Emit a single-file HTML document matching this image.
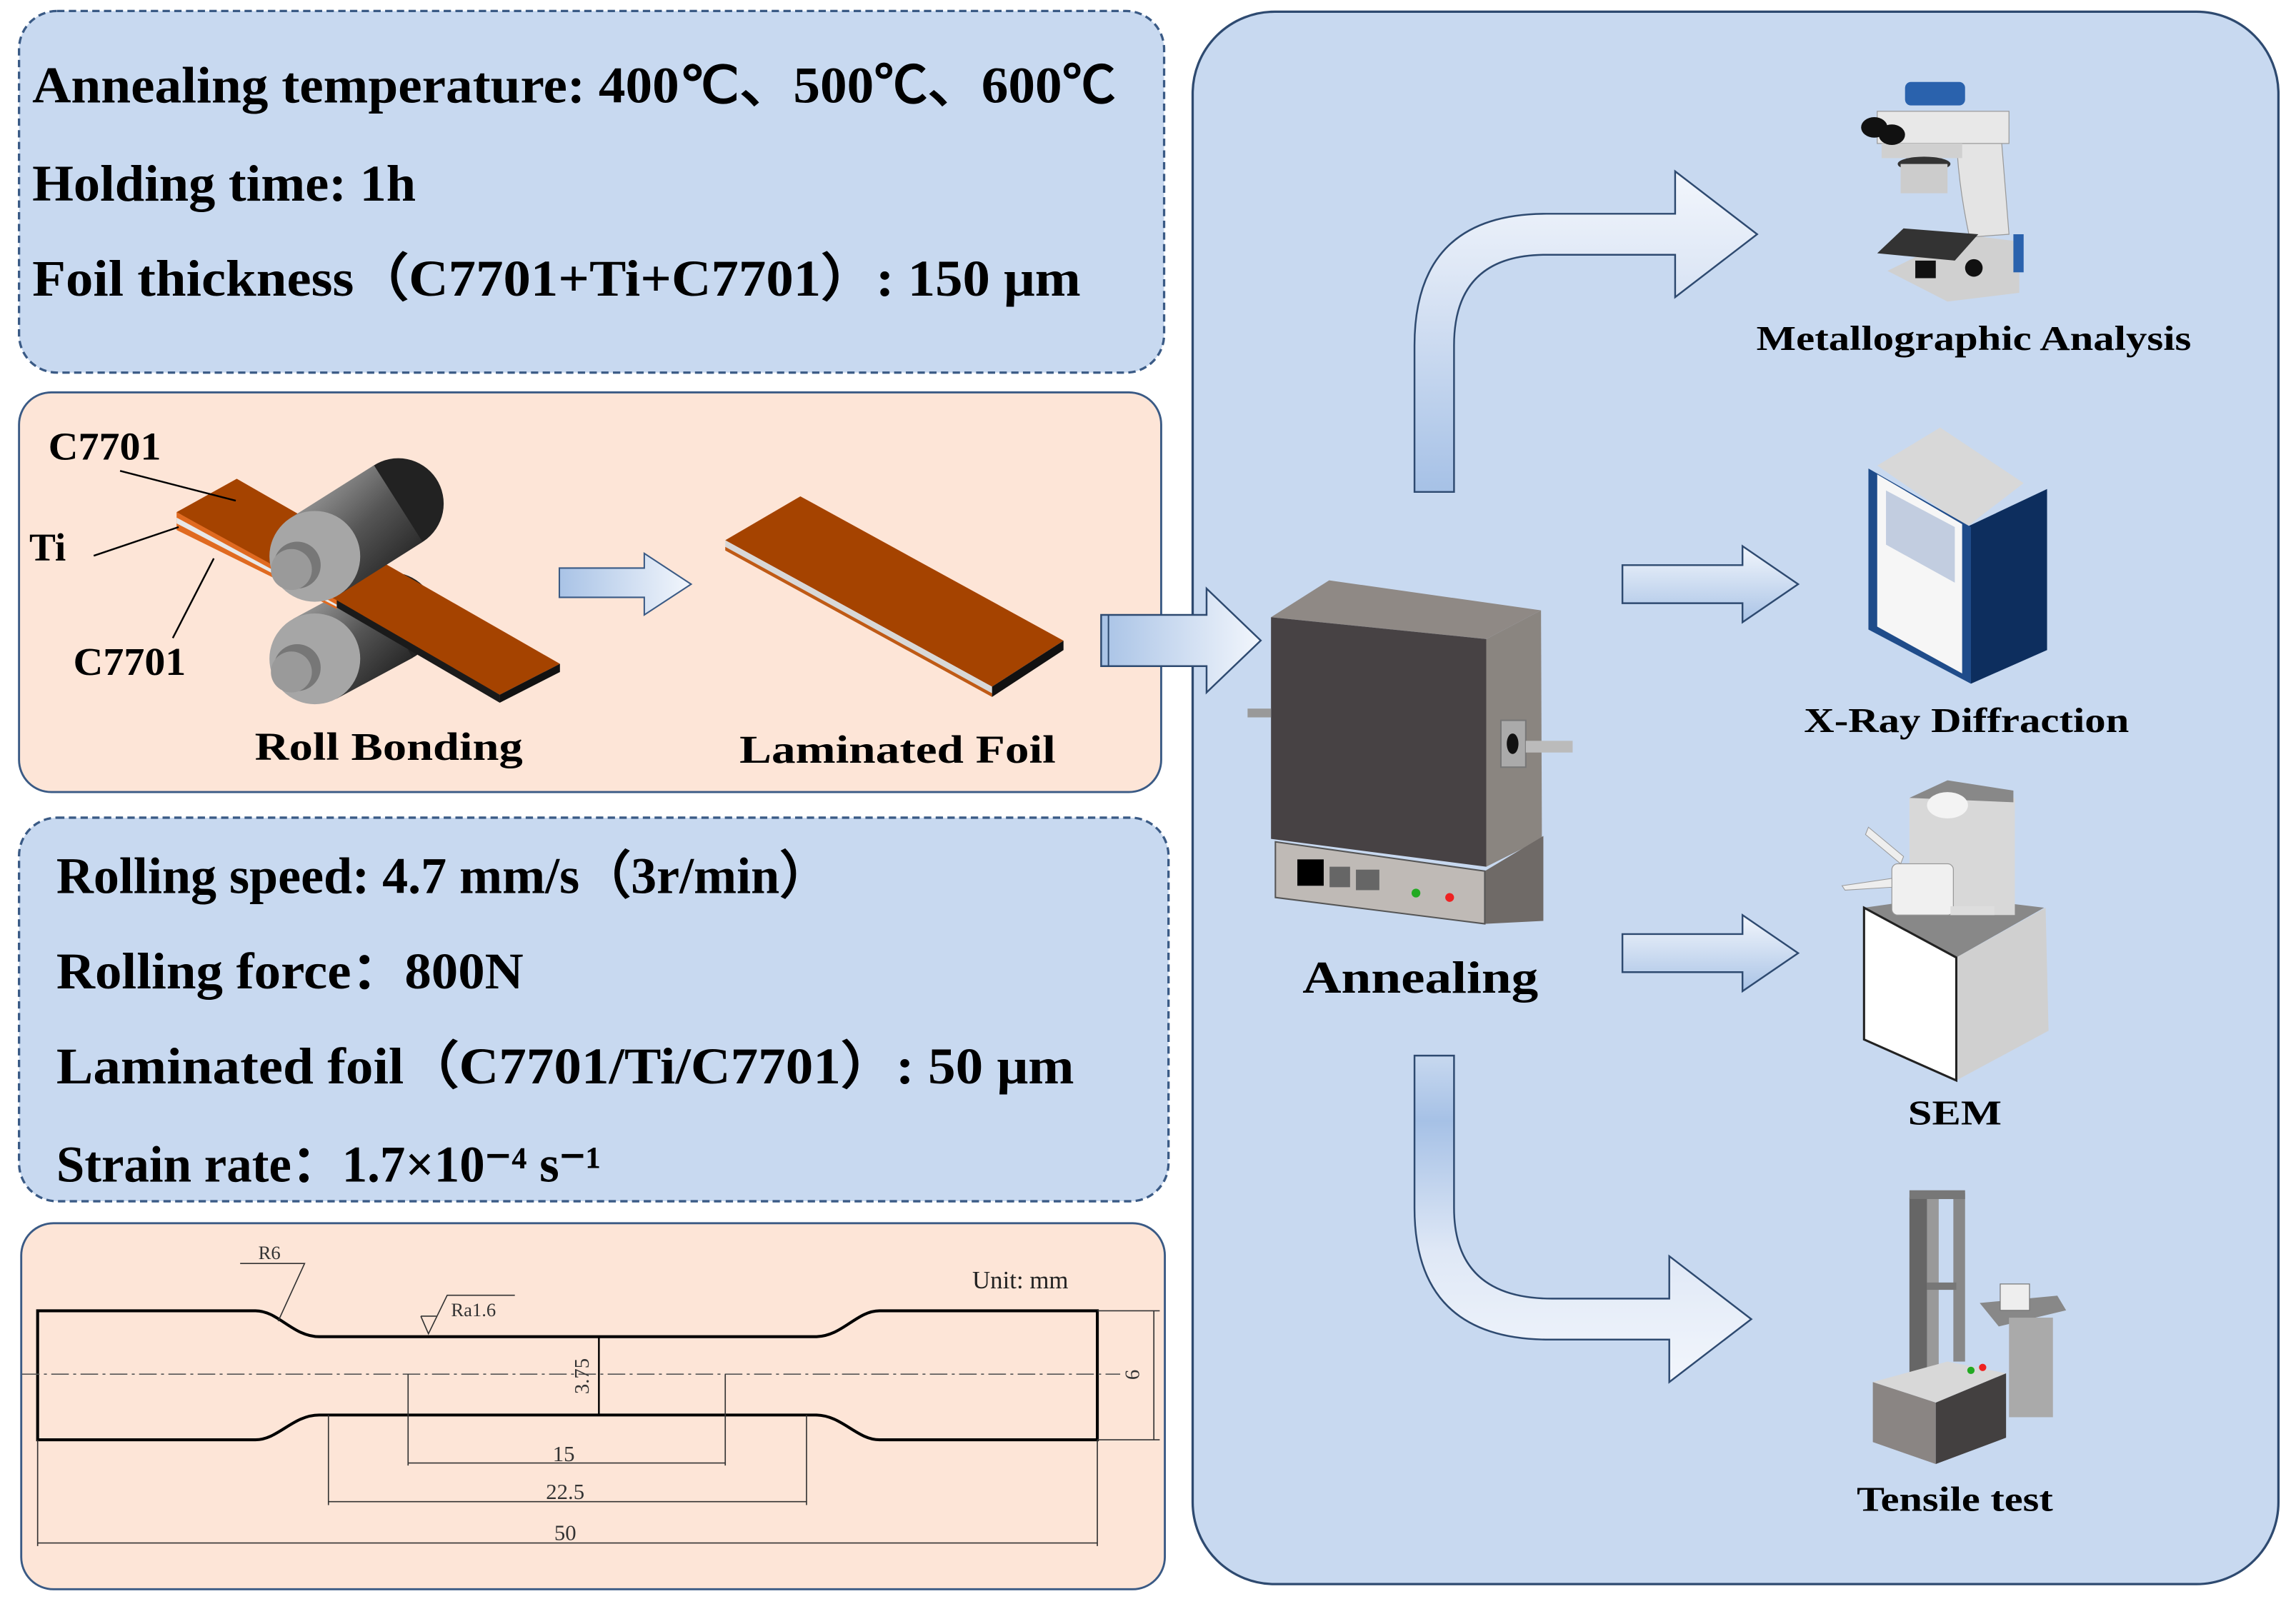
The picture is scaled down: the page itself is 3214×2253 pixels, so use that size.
<!DOCTYPE html>
<html><head><meta charset="utf-8"><style>html,body{margin:0;padding:0;background:#fff}svg{display:block}</style></head>
<body>
<svg width="3214" height="2253" viewBox="0 0 1568 1099" preserveAspectRatio="none" xmlns="http://www.w3.org/2000/svg" font-family="'Liberation Serif', serif">
<defs>
<linearGradient id="gh" x1="0" y1="0" x2="1" y2="0"><stop offset="0" stop-color="#a9c3e6"/><stop offset="1" stop-color="#f2f6fc"/></linearGradient>
<linearGradient id="gv" x1="0" y1="0" x2="0" y2="1"><stop offset="0" stop-color="#f2f6fc"/><stop offset="1" stop-color="#a9c3e6"/></linearGradient>
<linearGradient id="gup" x1="0" y1="1" x2="0" y2="0"><stop offset="0" stop-color="#a6c1e6"/><stop offset="0.7" stop-color="#dfe8f6"/><stop offset="1" stop-color="#f2f6fc"/></linearGradient>
<linearGradient id="gdn" x1="0" y1="0" x2="0" y2="1"><stop offset="0" stop-color="#c7d8ef"/><stop offset="0.2" stop-color="#a6c1e6"/><stop offset="0.6" stop-color="#dfe8f6"/><stop offset="1" stop-color="#f2f6fc"/></linearGradient>
<linearGradient id="roll" x1="0" y1="0" x2="1" y2="1"><stop offset="0" stop-color="#b8b8b8"/><stop offset="0.5" stop-color="#555"/><stop offset="1" stop-color="#111"/></linearGradient>
</defs>

<rect x="13" y="7.5" width="782" height="247" rx="26" fill="#c8d9f0" stroke="#3a5a85" stroke-width="1.6" stroke-dasharray="5,3"/>
<g font-weight="bold" font-size="35" fill="#000">
<text x="22" y="70" textLength="740" lengthAdjust="spacingAndGlyphs">Annealing temperature: 400℃、500℃、600℃</text>
<text x="22" y="137" textLength="262" lengthAdjust="spacingAndGlyphs">Holding time: 1h</text>
<text x="22" y="202" textLength="716" lengthAdjust="spacingAndGlyphs">Foil thickness（C7701+Ti+C7701）: 150 μm</text>
</g>

<rect x="13" y="268" width="780" height="273" rx="22" fill="#fde5d7" stroke="#3a5a85" stroke-width="1.4"/>
<polygon points="229.7,477.3 200.3,422.7 252.3,394.7 281.7,449.3" fill="url(#roll)"/>
<circle cx="267" cy="422" r="31" fill="#222"/>
<polygon points="229.7,477.3 200.3,422.7 252.3,394.7 281.7,449.3" fill="url(#roll)"/>
<circle cx="215" cy="450" r="31" fill="#a6a6a6"/>
<circle cx="203" cy="456" r="16" fill="#777"/>
<circle cx="199" cy="459" r="14" fill="#9a9a9a"/>
<polygon points="120.6,349.8 161.7,327 382.4,453.4 341.3,474.5" fill="#a54300"/>
<polygon points="120.6,349.8 230,410 230,416 120.6,362" fill="#e06a20"/>
<polygon points="120.6,353.5 230,413 230,414.5 120.6,357.5" fill="#e8e8e8"/>
<polygon points="230,410 341.3,474.5 341.3,480 230,415" fill="#1a1a1a"/>
<polygon points="341.3,474.5 382.4,453.4 382.4,459 341.3,480" fill="#111"/>
<circle cx="272" cy="344" r="31" fill="#222"/>
<polygon points="231.6,406.2 198.4,353.8 255.4,317.8 288.6,370.2" fill="url(#roll)"/>
<circle cx="215" cy="380" r="31" fill="#a6a6a6"/>
<circle cx="203" cy="386" r="16" fill="#777"/>
<circle cx="199" cy="389" r="14" fill="#9a9a9a"/>
<g stroke="#000" stroke-width="1.2"><line x1="82" y1="321.6" x2="161" y2="342"/><line x1="64" y1="379.6" x2="122" y2="360"/><line x1="118" y1="435.8" x2="146" y2="381.4"/></g>
<g font-weight="bold" font-size="27" fill="#000">
<text x="33" y="314" textLength="77" lengthAdjust="spacingAndGlyphs">C7701</text>
<text x="20" y="383">Ti</text>
<text x="50" y="461" textLength="77" lengthAdjust="spacingAndGlyphs">C7701</text>
<text x="174" y="519" textLength="183" lengthAdjust="spacingAndGlyphs">Roll Bonding</text>
<text x="505" y="521" textLength="216" lengthAdjust="spacingAndGlyphs">Laminated Foil</text>
</g>
<polygon points="382,388 440,388 440,378 472,399 440,420 440,408 382,408" fill="url(#gh)" stroke="#3a5a85" stroke-width="1"/>
<polygon points="495.3,369 546.6,339 726.3,437.6 677.5,469" fill="#a54300"/>
<polygon points="495.3,369 677.5,469 677.5,476 495.3,376" fill="#d8d8d8"/>
<polygon points="495.3,373.5 677.5,473.5 677.5,476 495.3,376" fill="#c05a15"/>
<polygon points="677.5,469 726.3,437.6 726.3,444 677.5,476" fill="#111"/>

<rect x="13" y="558.5" width="785" height="262" rx="26" fill="#c8d9f0" stroke="#3a5a85" stroke-width="1.6" stroke-dasharray="5,3"/>
<g font-weight="bold" font-size="35" fill="#000">
<text x="38.5" y="610" textLength="529" lengthAdjust="spacingAndGlyphs">Rolling speed: 4.7 mm/s（3r/min）</text>
<text x="38.5" y="675" textLength="319" lengthAdjust="spacingAndGlyphs">Rolling force：800N</text>
<text x="38.5" y="740" textLength="695" lengthAdjust="spacingAndGlyphs">Laminated foil（C7701/Ti/C7701）: 50 μm</text>
<text x="38.5" y="807" textLength="372" lengthAdjust="spacingAndGlyphs">Strain rate：1.7×10⁻⁴ s⁻¹</text>
</g>

<rect x="14.5" y="835.5" width="781" height="250" rx="22" fill="#fde5d7" stroke="#3a5a85" stroke-width="1.4"/>
<path d="M25.7,895.3 L174.5,895.3 C190,895.3 200,913 218,913 L557,913 C575,913 585,895.3 600.6,895.3 L749.4,895.3 L749.4,983.4 L600.6,983.4 C585,983.4 575,966.5 557,966.5 L218,966.5 C200,966.5 190,983.4 174.5,983.4 L25.7,983.4 Z" fill="none" stroke="#000" stroke-width="2"/>
<line x1="15" y1="938.6" x2="765" y2="938.6" stroke="#555" stroke-width="0.8" stroke-dasharray="12,3,2,3"/>
<g stroke="#333" stroke-width="0.8" fill="none">
<line x1="278.7" y1="938.6" x2="278.7" y2="1001"/><line x1="495.3" y1="938.6" x2="495.3" y2="1001"/><line x1="278.7" y1="999.3" x2="495.3" y2="999.3"/>
<line x1="224.3" y1="966.5" x2="224.3" y2="1028"/><line x1="550.8" y1="966.5" x2="550.8" y2="1028"/><line x1="224.3" y1="1025.7" x2="550.8" y2="1025.7"/>
<line x1="25.7" y1="983.4" x2="25.7" y2="1056"/><line x1="749.4" y1="983.4" x2="749.4" y2="1056"/><line x1="25.7" y1="1053.9" x2="749.4" y2="1053.9"/>
<line x1="749.4" y1="895.3" x2="792" y2="895.3"/><line x1="749.4" y1="983.4" x2="792" y2="983.4"/><line x1="788" y1="895.3" x2="788" y2="983.4"/>
<line x1="409" y1="913" x2="409" y2="966.5" stroke="#000" stroke-width="1.2"/>
<polyline points="164,863 208,863 190,902.4"/>
<polyline points="287.4,899 292.6,911 305.4,884.7 351.6,884.7"/>
<line x1="287.4" y1="899" x2="298" y2="899"/>
</g>
<g font-size="15" fill="#333">
<text x="385" y="998" text-anchor="middle">15</text>
<text x="386" y="1024" text-anchor="middle">22.5</text>
<text x="386" y="1052" text-anchor="middle">50</text>
<text x="184" y="860" text-anchor="middle" font-size="13">R6</text>
<text x="308" y="899" font-size="13">Ra1.6</text>
<text transform="translate(402,940) rotate(-90)" text-anchor="middle" font-size="14">3.75</text>
<text transform="translate(778,939) rotate(-90)" text-anchor="middle" font-size="14">6</text>
<text x="664" y="880" font-size="17" fill="#222">Unit: mm</text>
</g>

<rect x="814.5" y="8" width="741.5" height="1074" rx="56" fill="#c8d9f0" stroke="#2e4a70" stroke-width="1.6"/>
<polygon points="752,420 824,420 824,402 861,437.5 824,473 824,455 752,455" fill="url(#gh)" stroke="#2e4a70" stroke-width="1.2"/>
<line x1="757" y1="420" x2="757" y2="455" stroke="#2e4a70" stroke-width="1"/>

<path d="M966,336 L966,236 Q966,146 1056,146 L1144,146 L1144,117 L1200,160 L1144,203 L1144,174 L1056,174 Q993,174 993,236 L993,336 Z" fill="url(#gup)" stroke="#2e4a70" stroke-width="1.2"/>
<path d="M966,721 L966,825 Q966,915 1058,915 L1140,915 L1140,944 L1196,901 L1140,858 L1140,887 L1060,887 Q993,887 993,825 L993,721 Z" fill="url(#gdn)" stroke="#2e4a70" stroke-width="1.2"/>
<polygon points="1108,386 1190,386 1190,373 1228,399 1190,425 1190,412 1108,412" fill="url(#gv)" stroke="#2e4a70" stroke-width="1.2"/>
<polygon points="1108,638 1190,638 1190,625 1228,651 1190,677 1190,664 1108,664" fill="url(#gv)" stroke="#2e4a70" stroke-width="1.2"/>

<polygon points="868,421.6 907.7,396.4 1052.4,416.9 1015,436.5" fill="#8f8985"/>
<polygon points="1015,436.5 1052.4,416.9 1053,573 1015,592" fill="#8a8580"/>
<polygon points="868,421.6 1015,436.5 1015,592 868,573" fill="#474244"/>
<polygon points="1014,595 1054,571 1054,629 1014,631" fill="#6f6a67"/>
<polygon points="871,575 1014,595 1014,631 871,613" fill="#bfbab6" stroke="#555" stroke-width="1"/>
<rect x="886" y="587" width="18" height="18" fill="#000"/>
<rect x="908" y="592" width="14" height="14" fill="#666"/><rect x="926" y="594" width="16" height="14" fill="#666"/>
<circle cx="967" cy="610" r="3" fill="#2a2"/><circle cx="990" cy="613" r="3" fill="#e22"/>
<rect x="852" y="484" width="16" height="6" fill="#999"/>
<rect x="1025" y="492" width="17" height="32" fill="#aaa" stroke="#777"/><ellipse cx="1033" cy="508" rx="4" ry="7" fill="#111"/>
<rect x="1042" y="506" width="32" height="8" fill="#bbb"/>
<text x="970" y="678" text-anchor="middle" font-weight="bold" font-size="31" textLength="161" lengthAdjust="spacingAndGlyphs">Annealing</text>

<!-- microscope -->
<rect x="1301" y="56" width="41" height="16" rx="4" fill="#2a62ad"/>
<polygon points="1289,185 1340,160 1379,165 1379,200 1330,206" fill="#d0d0d0"/>
<path d="M1336,85 L1366,85 L1372,160 L1345,162 Q1336,120 1336,85Z" fill="#e4e4e4" stroke="#999" stroke-width="0.6"/>
<rect x="1282" y="76" width="90" height="22" fill="#e8e8e8" stroke="#999" stroke-width="0.6"/>
<rect x="1285" y="98" width="55" height="10" fill="#d0d0d0"/>
<ellipse cx="1280" cy="87" rx="9" ry="7" fill="#111"/><ellipse cx="1292" cy="92" rx="9" ry="7" fill="#111"/>
<ellipse cx="1314" cy="112" rx="18" ry="5" fill="#333"/>
<rect x="1298" y="112" width="32" height="20" fill="#ccc"/>
<polygon points="1282,173 1300,156 1351,160 1335,178" fill="#333"/>
<rect x="1308" y="178" width="14" height="12" fill="#111"/>
<circle cx="1348" cy="183" r="6" fill="#111"/>
<rect x="1375" y="160" width="7" height="26" fill="#2a62ad"/>
<text x="1348" y="239" text-anchor="middle" font-weight="bold" font-size="24" textLength="297" lengthAdjust="spacingAndGlyphs">Metallographic Analysis</text>

<!-- XRD -->
<polygon points="1282,318 1325,292 1382,330 1343,360" fill="#d8d8d8"/>
<polygon points="1343,360 1398,334 1398,444 1346,467" fill="#0d2e5e"/>
<polygon points="1276,320 1346,360 1346,467 1276,430" fill="#1f4c8a"/>
<polygon points="1282,324 1340,358 1340,460 1282,428" fill="#f6f6f6"/>
<polygon points="1288,335 1335,360 1335,398 1288,372" fill="#c2cde0"/>
<text x="1343" y="500" text-anchor="middle" font-weight="bold" font-size="24" textLength="222" lengthAdjust="spacingAndGlyphs">X-Ray Diffraction</text>

<!-- SEM -->
<polygon points="1273,620 1330,612 1396,620 1336,654" fill="#888"/>
<polygon points="1336,654 1397,620 1399,704 1336,738" fill="#d0d0d0"/>
<polygon points="1273,620 1336,654 1336,738 1273,710" fill="#fff" stroke="#222" stroke-width="1.5"/>
<rect x="1304" y="545" width="72" height="80" fill="#d8d8d8"/>
<polygon points="1304,545 1330,533 1375,540 1375,548" fill="#888"/>
<ellipse cx="1330" cy="550" rx="14" ry="9" fill="#f3f3f3"/>
<rect x="1292" y="590" width="42" height="35" rx="4" fill="#f0f0f0" stroke="#999" stroke-width="0.6"/>
<polygon points="1258,605 1292,600 1292,606 1260,608" fill="#eee" stroke="#999" stroke-width="0.5"/>
<polygon points="1276,565 1300,585 1298,590 1274,570" fill="#eee" stroke="#999" stroke-width="0.5"/>
<rect x="1332" y="619" width="30" height="6" fill="#ddd"/>
<text x="1335" y="768" text-anchor="middle" font-weight="bold" font-size="24" textLength="64" lengthAdjust="spacingAndGlyphs">SEM</text>

<!-- tensile -->
<polygon points="1352,890 1405,885 1411,895 1365,906" fill="#888"/>
<rect x="1372" y="900" width="30" height="68" fill="#aaa"/>
<rect x="1366" y="877" width="20" height="18" fill="#eee" stroke="#777" stroke-width="0.6"/>
<rect x="1304" y="818" width="12" height="120" fill="#666"/>
<rect x="1316" y="815" width="8" height="120" fill="#999"/>
<rect x="1334" y="815" width="8" height="115" fill="#888"/>
<rect x="1304" y="813" width="38" height="6" fill="#777"/>
<rect x="1316" y="876" width="20" height="5" fill="#777"/>
<polygon points="1279,944 1330,930 1370,938 1322,958" fill="#d8d8d8"/>
<polygon points="1279,944 1322,958 1322,1000 1279,985" fill="#8a8583"/>
<polygon points="1322,958 1370,938 1370,982 1322,1000" fill="#434040"/>
<circle cx="1346" cy="936" r="2.5" fill="#2a2"/><circle cx="1354" cy="934" r="2.5" fill="#e22"/>
<text x="1335" y="1032" text-anchor="middle" font-weight="bold" font-size="24" textLength="134" lengthAdjust="spacingAndGlyphs">Tensile test</text>
</svg>
</body></html>
